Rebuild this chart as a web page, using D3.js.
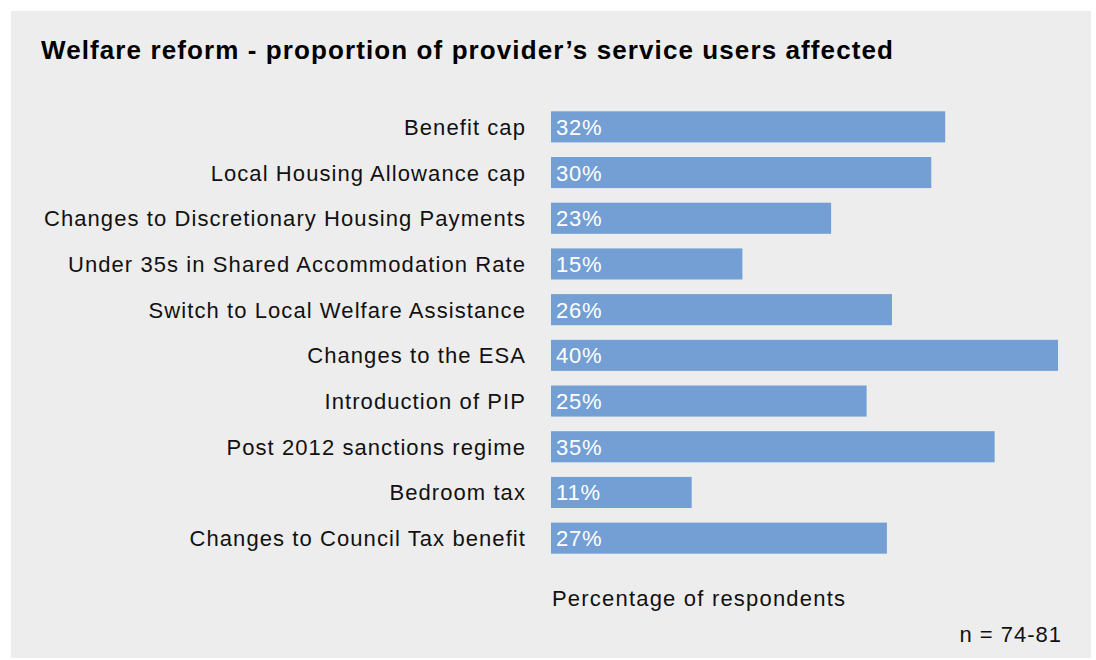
<!DOCTYPE html>
<html>
<head>
<meta charset="utf-8">
<script src="https://cdn.jsdelivr.net/npm/d3@7"></script>
<style>
  body { margin: 0; background: #fff; }
  text { font-family: "Liberation Sans", Arial, sans-serif; }
</style>
</head>
<body>
<svg id="chart" width="1096" height="660"></svg>
<script>
// data
const categories = [
  "Benefit cap",
  "Local Housing Allowance cap",
  "Changes to Discretionary Housing Payments",
  "Under 35s in Shared Accommodation Rate",
  "Switch to Local Welfare Assistance",
  "Changes to the ESA",
  "Introduction of PIP",
  "Post 2012 sanctions regime",
  "Bedroom tax",
  "Changes to Council Tax benefit"
];
// bar lengths as drawn (percent)
const shares = [31.1, 30.0, 22.1, 15.1, 26.9, 40.0, 24.9, 35.0, 11.1, 26.5];
// printed labels
const labels = ["32%", "30%", "23%", "15%", "26%", "40%", "25%", "35%", "11%", "27%"];

const title = "Welfare reform - proportion of provider\u2019s service users affected";
const axisTitle = "Percentage of respondents";
const note = "n = 74-81";

const svg = d3.select("#chart");

// grey panel
svg.append("rect")
  .attr("x", 11).attr("y", 11)
  .attr("width", 1080).attr("height", 647)
  .attr("fill", "#ededed");

svg.append("text")
  .attr("x", 41).attr("y", 59)
  .attr("font-size", 26).attr("font-weight", "bold")
  .attr("letter-spacing", 1.1)
  .attr("fill", "#000")
  .text(title);

const x = d3.scaleLinear().domain([0, 40]).range([551, 1058]);
const y = d3.scaleBand().domain(categories).range([104, 561]).paddingInner(0.32).paddingOuter(0.16);

const rows = svg.selectAll("g.row")
  .data(categories)
  .join("g")
  .attr("class", "row");

rows.append("rect")
  .attr("x", x(0))
  .attr("y", d => y(d))
  .attr("width", (d, i) => x(shares[i]) - x(0))
  .attr("height", y.bandwidth())
  .attr("fill", "#739fd4");

rows.append("text")
  .attr("x", 526)
  .attr("y", d => y(d) + y.bandwidth() / 2 + 8)
  .attr("text-anchor", "end")
  .attr("font-size", 22)
  .attr("letter-spacing", 1.08)
  .attr("fill", "#111")
  .text(d => d);

rows.append("text")
  .attr("x", x(0) + 5)
  .attr("y", d => y(d) + y.bandwidth() / 2 + 8)
  .attr("font-size", 22)
  .attr("letter-spacing", 0.8)
  .attr("fill", "#fff")
  .text((d, i) => labels[i]);

svg.append("text")
  .attr("x", 552).attr("y", 606)
  .attr("font-size", 22).attr("fill", "#111")
  .attr("letter-spacing", 1.2)
  .text(axisTitle);

svg.append("text")
  .attr("x", 1062).attr("y", 642)
  .attr("text-anchor", "end")
  .attr("font-size", 22).attr("fill", "#111")
  .attr("letter-spacing", 1.0)
  .text(note);
</script>
</body>
</html>
